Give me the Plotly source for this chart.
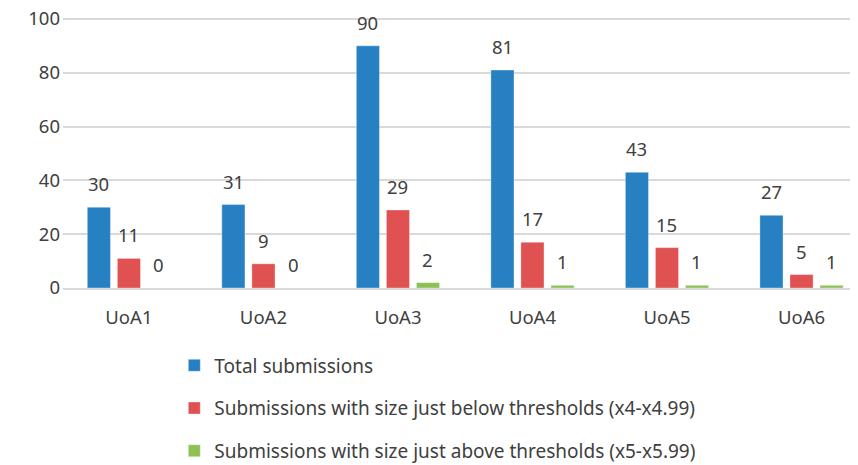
import plotly.graph_objects as go

categories = ["UoA1", "UoA2", "UoA3", "UoA4", "UoA5", "UoA6"]
series_names = [
    "Total submissions",
    "Submissions with size just below thresholds (x4-x4.99)",
    "Submissions with size just above thresholds (x5-x5.99)",
]
total = [30, 31, 90, 81, 43, 27]
below = [11, 9, 29, 17, 15, 5]
above = [0, 0, 2, 1, 1, 1]
colors = ["#2680C2", "#E05152", "#8DC153"]
y_ticks = [0, 20, 40, 60, 80, 100]

FONT = "Noto Sans"
TXT = "#404040"
FS = 18.5

fig = go.Figure()
all_series = [total, below, above]
for i, (name, vals, col) in enumerate(zip(series_names, all_series, colors)):
    fig.add_trace(go.Bar(
        x=categories, y=vals, name=name,
        marker=dict(color=col, line=dict(color="rgba(255,255,255,0.35)", width=1)),
        legendgroup=f"g{i}",
    ))

# data labels
shifts = [-30, 0, 30]
annotations = []
for vals, dx in zip(all_series, shifts):
    for c, v in zip(categories, vals):
        annotations.append(dict(
            x=c, y=v, xref="x", yref="y", text=str(v), showarrow=False,
            xshift=dx, yshift=9, yanchor="bottom",
            font=dict(family=FONT, size=FS, color=TXT),
        ))

# the page adds an 8px body margin, so the figure is 8px smaller
fig.update_layout(
    width=850, height=457,
    margin=dict(l=55, r=0, t=8, b=177, autoexpand=False),
    paper_bgcolor="white", plot_bgcolor="white",
    barmode="group", bargap=0.33, bargroupgap=0.23,
    font=dict(family=FONT, size=FS, color=TXT),
    annotations=annotations,
    showlegend=True,
    legend=dict(
        orientation="v", x=0.14, xanchor="left", y=-0.215, yanchor="top",
        font=dict(family=FONT, size=19, color=TXT),
        tracegroupgap=15, itemclick=False,
    ),
)
fig.update_yaxes(
    range=[0, 101.1], tickvals=y_ticks, showgrid=True, gridcolor="#D9D9D9",
    gridwidth=1.5, zeroline=False, showline=False, ticks="",
    tickfont=dict(family=FONT, size=FS, color=TXT), ticklabelstandoff=2,
    ticklabeloverflow="allow",
)
fig.update_xaxes(
    range=[-0.49, 5.42],
    showline=True, linecolor="#D9D9D9", linewidth=1.5, ticks="",
    tickfont=dict(family=FONT, size=FS, color=TXT), ticklabelstandoff=12,
)

fig.write_html("out.html")
